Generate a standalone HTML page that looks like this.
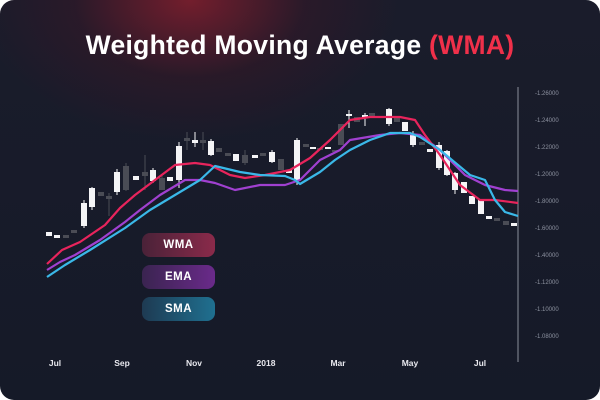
<!DOCTYPE html><html><head><style>
html,body{margin:0;padding:0;background:#fff}
#c{position:relative;width:600px;height:400px;border-radius:14px;overflow:hidden;
background:radial-gradient(ellipse 210px 140px at 190px 0px,rgba(125,30,45,.9),rgba(60,22,38,.45) 55%,rgba(22,25,40,0) 100%),linear-gradient(180deg,#1a1c2b,#151a28);font-family:"Liberation Sans",sans-serif}
.t{position:absolute;top:30px;width:100%;text-align:center;color:#fff;font-weight:bold;font-size:26.5px;letter-spacing:.3px}
.t span{color:#f0304a}
.b{position:absolute;left:142px;width:73px;height:24px;border-radius:8px;color:#fff;font-weight:bold;font-size:11.5px;text-align:center;line-height:24px;letter-spacing:.5px}
</style></head><body><div id="c">
<div class="t">Weighted Moving Average <span>(WMA)</span></div>
<svg width="600" height="400" style="position:absolute;left:0;top:0" font-family="Liberation Sans" >
<line x1="518" y1="87" x2="518" y2="362" stroke="#8a8f9a" stroke-width="1"/>
<g fill="#8d92a0" font-size="6">
<text x="535" y="95">-1.26000</text><text x="535" y="122">-1.24000</text><text x="535" y="149">-1.22000</text><text x="535" y="176">-1.20000</text><text x="535" y="203">-1.80000</text><text x="535" y="230">-1.60000</text><text x="535" y="257">-1.40000</text><text x="535" y="284">-1.12000</text><text x="535" y="311">-1.10000</text><text x="535" y="338">-1.08000</text>
</g>
<g fill="#e8e8ee" font-size="8.5" font-weight="bold" text-anchor="middle">
<text x="55" y="366">Jul</text><text x="122" y="366">Sep</text><text x="194" y="366">Nov</text><text x="266" y="366">2018</text><text x="338" y="366">Mar</text><text x="410" y="366">May</text><text x="480" y="366">Jul</text>
</g>
<g id="cd"></g>
<polyline fill="none" stroke="#a040d0" stroke-width="2.2" stroke-linejoin="round" points="47,270 60,262 75,255 100,240 125,222 140,210 160,195 185,180 200,180 215,183 235,190 260,185 285,185 300,180 320,160 340,150 350,140 380,135 400,133 420,135 440,150 465,175 485,185 505,190 518,191"/>
<polyline fill="none" stroke="#e8245c" stroke-width="2.2" stroke-linejoin="round" points="47,264 62,250 80,242 105,225 120,208 135,195 155,180 175,165 195,163 210,165 230,175 245,178 265,175 290,170 310,158 330,140 350,120 370,117 400,117 415,120 425,135 440,155 460,185 480,200 495,200 518,203"/>
<polyline fill="none" stroke="#3ab8e8" stroke-width="2.2" stroke-linejoin="round" points="47,277 65,265 90,250 125,228 150,210 175,195 200,180 215,166 240,172 260,175 285,176 295,180 300,184 320,172 335,160 350,150 370,140 390,133 410,133 420,137 440,150 470,175 485,180 495,200 505,212 518,216"/>
</svg>
<div class="b" style="top:233px;background:linear-gradient(90deg,#4a2238,#8a2a4a)">WMA</div>
<div class="b" style="top:265px;background:linear-gradient(90deg,#3a2450,#6a2a8a)">EMA</div>
<div class="b" style="top:297px;background:linear-gradient(90deg,#1e3a52,#1f7090)">SMA</div>
</div>
<script>
var d=[[49,232,236,0,0,1],[57,235,238,0,0,1],[66,235,238,0,0,0],[74,230,233,0,0,0],[84,203,226,200,228,1],[92,188,207,187,210,1],[101,192,196,0,0,0],[109,196,199,193,216,0],[117,172,192,169,195,1],[126,166,190,163,191,0],[136,176,180,0,0,1],[145,172,176,155,190,0],[153,170,181,168,183,1],[162,178,190,176,190,0],[170,177,181,0,0,1],[179,146,180,142,188,1],[187,138,141,132,150,0],[195,140,143,132,147,1],[203,140,143,132,150,0],[211,141,155,139,156,1],[219,148,152,0,0,0],[228,153,156,0,0,0],[236,154,161,0,0,1],[245,155,163,150,165,0],[255,155,158,0,0,1],[263,153,156,0,0,0],[272,152,162,150,163,1],[281,159,170,0,0,0],[289,170,173,0,0,1],[297,140,180,138,185,1],[306,144,147,0,0,0],[313,147,149,0,0,1],[320,148,150,0,0,0],[328,147,149,0,0,1],[335,150,152,0,0,0],[341,124,145,0,0,0],[349,114,116,110,128,1],[357,117,122,0,0,0],[365,115,118,113,126,1],[372,113,116,0,0,0],[389,109,124,108,126,1],[397,118,122,0,0,0],[405,122,131,0,0,1],[413,135,145,131,147,1],[422,142,145,0,0,0],[430,149,152,0,0,1],[439,145,168,142,170,1],[447,151,175,150,176,1],[455,173,190,172,194,1],[464,182,193,0,0,1],[472,196,204,0,0,1],[481,200,214,0,0,1],[489,216,219,0,0,1],[497,218,221,0,0,0],[506,221,225,0,0,0],[514,223,226,0,0,1]];
var s='';d.forEach(function(c){var col=c[5]?'#f4f4f6':'#4a4c55';if(c[3])s+='<line x1="'+c[0]+'" x2="'+c[0]+'" y1="'+c[3]+'" y2="'+c[4]+'" stroke="'+col+'" stroke-width="1"/>';s+='<rect x="'+(c[0]-3)+'" y="'+c[1]+'" width="6" height="'+(c[2]-c[1])+'" fill="'+col+'"/>';});
document.getElementById('cd').innerHTML=s;
</script>
</body></html>
